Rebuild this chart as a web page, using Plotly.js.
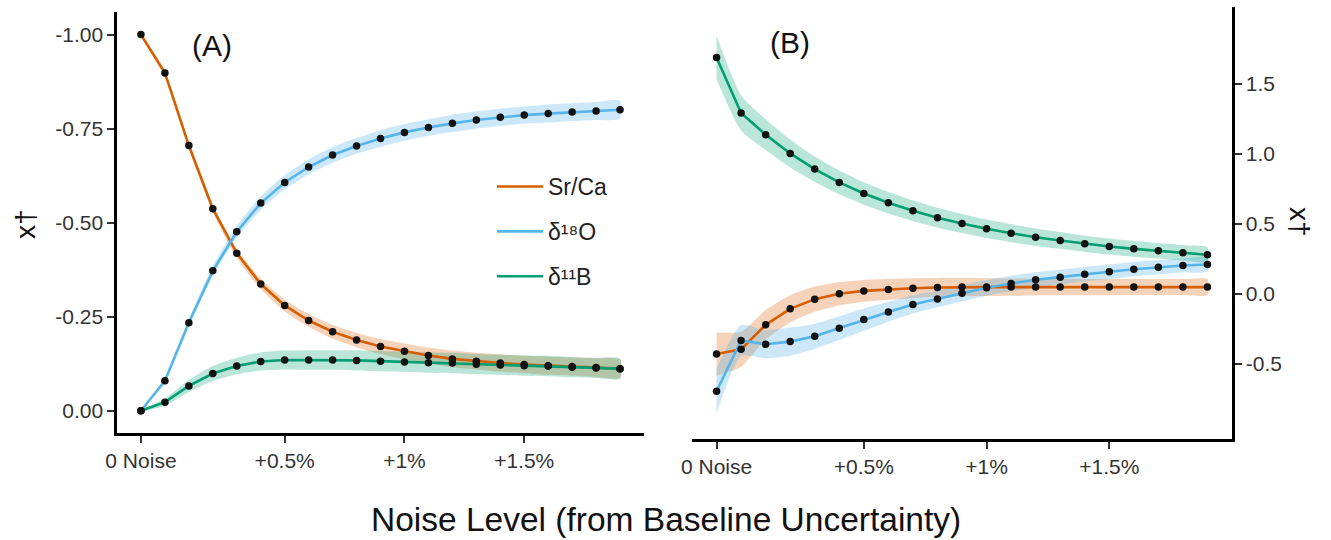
<!DOCTYPE html>
<html>
<head>
<meta charset="utf-8">
<script src="https://cdn.plot.ly/plotly-3.0.1.min.js"></script>
<style>html,body{margin:0;padding:0;background:#fff;}#chart{width:1331px;height:540px;}</style>
</head>
<body>
<div id="chart"></div>
<script>
// ---- data ----
var noiseStep = [0,1,2,3,4,5,6,7,8,9,10,11,12,13,14,15,16,17,18,19,20];
var xTickVals = [0, 6, 11, 16];
var xTickText = ['0 Noise', '+0.5%', '+1%', '+1.5%'];
var seriesNames = ['Sr/Ca', 'δ¹⁸O', 'δ¹¹B'];

// Panel A
var srcaA = [-1.000,-0.898,-0.705,-0.537,-0.419,-0.337,-0.280,-0.240,-0.210,-0.188,-0.171,-0.158,-0.147,-0.138,-0.132,-0.127,-0.123,-0.120,-0.118,-0.115,-0.112];
var srcaAErr = [0.004,0.006,0.008,0.010,0.012,0.014,0.016,0.017,0.018,0.019,0.020,0.021,0.021,0.022,0.022,0.023,0.023,0.024,0.024,0.025,0.025];
var d18OA = [0.000,-0.080,-0.234,-0.372,-0.476,-0.552,-0.607,-0.648,-0.680,-0.704,-0.724,-0.740,-0.753,-0.764,-0.773,-0.780,-0.786,-0.790,-0.794,-0.797,-0.800];
var d18OAErr = [0.002,0.006,0.010,0.013,0.016,0.018,0.019,0.020,0.021,0.021,0.022,0.022,0.022,0.023,0.023,0.023,0.023,0.024,0.024,0.024,0.024];
var d11BA = [0.000,-0.023,-0.066,-0.099,-0.119,-0.131,-0.135,-0.135,-0.135,-0.134,-0.132,-0.130,-0.128,-0.127,-0.124,-0.122,-0.120,-0.119,-0.116,-0.114,-0.112];
var d11BAErr = [0.002,0.010,0.016,0.020,0.022,0.024,0.025,0.026,0.026,0.027,0.027,0.027,0.027,0.027,0.027,0.027,0.027,0.027,0.027,0.027,0.027];
var yTickValsA = [0, -0.25, -0.5, -0.75, -1];
var yTickTextA = ['0.00', '-0.25', '-0.50', '-0.75', '-1.00'];

// Panel B
var srcaB = [-0.429,-0.396,-0.221,-0.107,-0.038,0.000,0.021,0.031,0.040,0.045,0.048,0.048,0.048,0.048,0.048,0.048,0.048,0.048,0.048,0.048,0.048];
var srcaBErr = [0.155,0.125,0.105,0.097,0.090,0.083,0.078,0.074,0.071,0.068,0.066,0.064,0.062,0.060,0.059,0.058,0.058,0.057,0.057,0.057,0.057];
var d18OB = [-0.695,-0.333,-0.360,-0.341,-0.303,-0.245,-0.184,-0.129,-0.076,-0.036,0.004,0.043,0.074,0.100,0.119,0.140,0.157,0.176,0.190,0.202,0.209];
var d18OBErr = [0.160,0.110,0.100,0.100,0.090,0.085,0.080,0.070,0.065,0.060,0.058,0.056,0.055,0.054,0.053,0.052,0.052,0.051,0.051,0.050,0.050];
var d11BB = [1.686,1.290,1.136,1.002,0.890,0.795,0.716,0.650,0.593,0.543,0.502,0.464,0.433,0.404,0.381,0.357,0.338,0.321,0.307,0.293,0.279];
var d11BBErr = [0.155,0.125,0.110,0.100,0.090,0.085,0.080,0.077,0.074,0.071,0.068,0.066,0.064,0.062,0.060,0.058,0.057,0.056,0.055,0.054,0.053];
var yTickValsB = [-0.5, 0, 0.5, 1, 1.5];
var yTickTextB = ['-0.5', '0.0', '0.5', '1.0', '1.5'];

// ---- styles ----
var lineColors = ['#D55E00', '#56B4E9', '#009E73'];
var bandColors = ['rgba(213,94,0,0.27)', 'rgba(86,180,233,0.30)', 'rgba(0,158,115,0.27)'];
var FONT = 'Arial, "Liberation Sans", Helvetica, sans-serif';
var tickColor = '#333333';

function band(x, y, err, color, xa, ya) {
  var up = y.map(function (v, i) { return v + err[i]; });
  var lo = y.map(function (v, i) { return v - err[i]; });
  return {
    x: x.concat(x.slice().reverse()),
    y: up.concat(lo.slice().reverse()),
    type: 'scatter', mode: 'lines', fill: 'toself',
    fillcolor: color, line: {width: 0, color: 'rgba(0,0,0,0)', shape: 'spline', smoothing: 0.6},
    hoverinfo: 'skip', showlegend: false, xaxis: xa, yaxis: ya
  };
}
function line(x, y, color, name, xa, ya, showLeg, idx) {
  return {
    x: x, y: y, type: 'scatter', mode: 'lines', name: name,
    line: {color: color, width: 2.6}, showlegend: showLeg,
    legendgroup: 'g' + idx, xaxis: xa, yaxis: ya
  };
}
function dots(x, y, xa, ya) {
  return {
    x: x, y: y, type: 'scatter', mode: 'markers',
    marker: {color: '#111111', size: 7.5}, showlegend: false, xaxis: xa, yaxis: ya
  };
}

var A = [[srcaA, srcaAErr], [d18OA, d18OAErr], [d11BA, d11BAErr]];
var B = [[srcaB, srcaBErr], [d18OB, d18OBErr], [d11BB, d11BBErr]];
var traces = [];
[[A, 'x', 'y', true], [B, 'x2', 'y2', false]].forEach(function (p) {
  var set = p[0];
  set.forEach(function (s, i) { traces.push(band(noiseStep, s[0], s[1], bandColors[i], p[1], p[2])); });
  set.forEach(function (s, i) { traces.push(line(noiseStep, s[0], lineColors[i], seriesNames[i], p[1], p[2], p[3], i)); });
  set.forEach(function (s, i) { traces.push(dots(noiseStep, s[0], p[1], p[2])); });
});

var W = 1331, H = 540;
function px(v) { return v / W; }
function py(v) { return (H - v) / H; }

var xBase = {
  range: [-1, 21], tickvals: xTickVals, ticktext: xTickText,
  showline: true, linecolor: '#000', linewidth: 2.6,
  ticks: 'outside', ticklen: 7, tickwidth: 2, tickcolor: '#333',
  showgrid: false, zeroline: false,
  tickfont: {family: FONT, size: 21, color: tickColor}
};
var yBase = {
  showline: true, linecolor: '#000', linewidth: 2.6,
  ticks: 'outside', ticklen: 7, tickwidth: 2, tickcolor: '#333',
  showgrid: false, zeroline: false,
  tickfont: {family: FONT, size: 21, color: tickColor}
};

function note(text, x, y, size, angle) {
  return {text: text, x: px(x), y: py(y), xref: 'paper', yref: 'paper', showarrow: false,
    xanchor: 'center', yanchor: 'middle', textangle: angle || 0,
    font: {family: FONT, size: size, color: '#111'}};
}

var layout = {
  width: W, height: H,
  margin: {l: 0, r: 0, t: 0, b: 0},
  paper_bgcolor: '#fff', plot_bgcolor: 'rgba(0,0,0,0)',
  font: {family: FONT, color: '#222'},
  xaxis: Object.assign({}, xBase, {domain: [px(117), px(644)], anchor: 'y'}),
  yaxis: Object.assign({}, yBase, {domain: [py(433), py(12)], anchor: 'x',
    range: [0.059, -1.060], tickvals: yTickValsA, ticktext: yTickTextA}),
  xaxis2: Object.assign({}, xBase, {domain: [px(692), px(1232)], anchor: 'y2'}),
  yaxis2: Object.assign({}, yBase, {domain: [py(439), py(7)], anchor: 'x2', side: 'right',
    range: [-1.036, 2.047], tickvals: yTickValsB, ticktext: yTickTextB}),
  showlegend: true,
  legend: {
    x: px(492), y: py(165), xanchor: 'left', yanchor: 'top',
    bgcolor: 'rgba(0,0,0,0)', font: {family: FONT, size: 23, color: '#222'},
    traceorder: 'grouped', tracegroupgap: 12, itemwidth: 46
  },
  annotations: [
    note('(A)', 212, 45, 30),
    note('(B)', 790, 43, 30),
    note('Noise Level (from Baseline Uncertainty)', 666, 519, 33.5),
    note('x†', 25, 224, 28, -90),
    note('x†', 1300, 222, 28, 90)
  ]
};

Plotly.newPlot('chart', traces, layout, {displayModeBar: false, staticPlot: true});
</script>
</body>
</html>
